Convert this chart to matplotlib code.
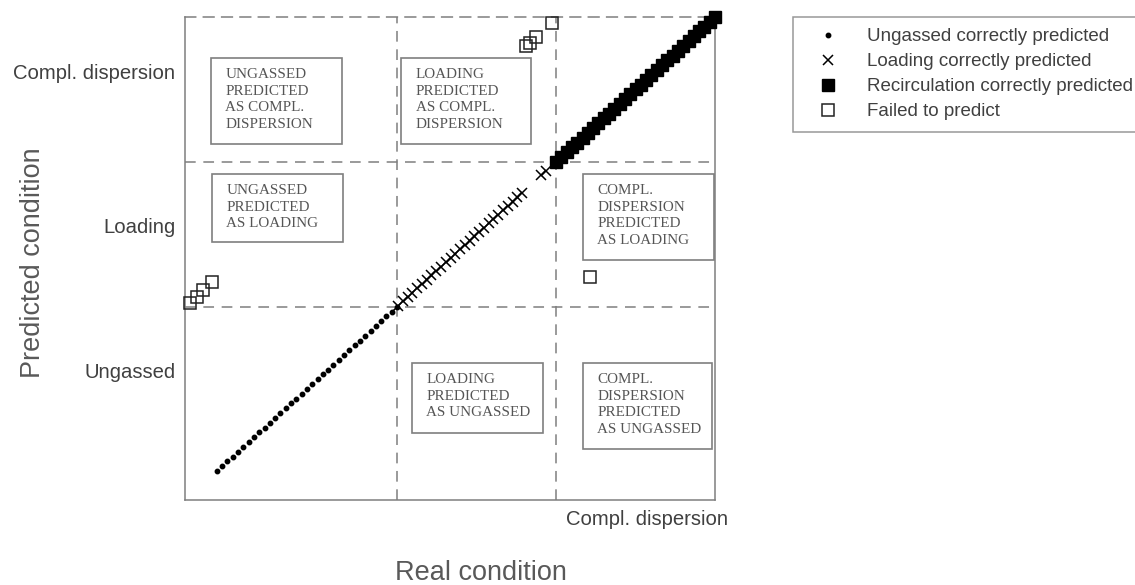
import matplotlib
matplotlib.use("Agg")
import matplotlib.pyplot as plt
from matplotlib.patches import Rectangle

# condition scale: 0-40 ungassed, 40-70 loading, 70-100 complete dispersion
bounds = [40, 70]

# correctly predicted points (predicted == real)
ungassed_ok = [6, 7, 8, 9, 10, 11, 12, 13, 14, 15, 16, 17, 18, 19, 20, 21, 22, 23,
               24, 25, 26, 27, 28, 29, 30, 31, 32, 33, 34, 35, 36, 37, 38, 39, 40]
loading_ok = [40.2, 41.1, 42.0, 42.9, 43.8, 44.7, 45.6, 46.5, 47.4, 48.3, 49.2, 50.1,
              51.0, 51.9, 52.8, 53.7, 54.6, 55.5, 56.4, 57.3, 58.2, 59.1, 60.0, 60.9,
              61.8, 62.7, 63.6, 67.2, 68.1]
recirc_ok = [70, 71, 72, 73, 74, 75, 76, 77, 78, 79, 80, 81, 82, 83, 84, 85, 86, 87,
             88, 89, 90, 91, 92, 93, 94, 95, 96, 97, 98, 99, 100]

# failed predictions (real, predicted)
failed_real = [0.9, 2.3, 3.4, 5.1, 64.3, 65.1, 66.2, 69.2, 76.4]
failed_pred = [40.8, 42.0, 43.5, 45.1, 94.0, 94.6, 95.9, 98.8, 46.2]

ytick_pos = [26.9, 56.9, 88.8]
ytick_labels = ["Ungassed", "Loading", "Compl. dispersion"]
xtick_pos = [87.2]
xtick_labels = ["Compl. dispersion"]

# region boxes: (x0, y0, x1, y1, text)
boxes = [
    (4.9, 73.7, 29.6, 91.5, "UNGASSED\nPREDICTED\nAS COMPL.\nDISPERSION"),
    (40.8, 73.7, 65.3, 91.5, "LOADING\nPREDICTED\nAS COMPL.\nDISPERSION"),
    (5.1, 53.4, 29.8, 67.5, "UNGASSED\nPREDICTED\nAS LOADING"),
    (75.1, 49.7, 99.8, 67.5, "COMPL.\nDISPERSION\nPREDICTED\nAS LOADING"),
    (42.8, 13.9, 67.5, 28.4, "LOADING\nPREDICTED\nAS UNGASSED"),
    (75.1, 10.6, 99.4, 28.4, "COMPL.\nDISPERSION\nPREDICTED\nAS UNGASSED"),
]

gray = "#7f7f7f"
txt = "#404040"

fig = plt.figure(figsize=(11.35, 5.85), dpi=100)
ax = fig.add_axes([185/1135, 85/585, 530/1135, 483/585])
ax.set_xlim(0, 100)
ax.set_ylim(0, 100)

for b in bounds:
    ax.axvline(b, color=gray, lw=1.1, dashes=(7, 5), zorder=1)
    ax.axhline(b, color=gray, lw=1.1, dashes=(7, 5), zorder=1)

for x0, y0, x1, y1, s in boxes:
    ax.add_patch(Rectangle((x0, y0), x1 - x0, y1 - y0, fill=False,
                           edgecolor=gray, lw=1.2, zorder=2))
    ax.text(x0 + 2.7, y1 - 2.1, s, ha="left", va="top", fontsize=10.9,
            family="Liberation Serif", color="#555555", linespacing=1.36, zorder=3)

ax.plot(ungassed_ok, ungassed_ok, ls="none", marker="o", ms=3.2, color="black",
        label="Ungassed correctly predicted", zorder=4)
ax.plot(loading_ok, loading_ok, ls="none", marker="x", ms=7.5, mew=1.1, color="black",
        label="Loading correctly predicted", zorder=4)
ax.plot(recirc_ok, recirc_ok, ls="none", marker="s", ms=8.5, color="black",
        label="Recirculation correctly predicted", zorder=4, clip_on=False)
ax.plot(failed_real, failed_pred, ls="none", marker="s", ms=8.5, mfc="none", mec="#222222",
        mew=1.1, label="Failed to predict", zorder=4, clip_on=False)

for side in ["left", "bottom", "right", "top"]:
    ax.spines[side].set_color(gray)
    ax.spines[side].set_linewidth(1.1)
ax.spines["top"].set_linestyle((0, (7, 5)))

ax.set_yticks(ytick_pos)
ax.set_yticklabels(ytick_labels)
ax.set_xticks(xtick_pos)
ax.set_xticklabels(xtick_labels)
ax.tick_params(length=0, labelsize=14.6, labelcolor=txt, pad=7)
for lbl in ax.get_xticklabels() + ax.get_yticklabels():
    lbl.set_family("Liberation Sans")

fig.text(481/1135, 1 - 573/585, "Real condition", ha="center", va="center",
         fontsize=19.5, color="#595959", family="Liberation Sans")
fig.text(33/1135, 1 - 263/585, "Predicted condition", ha="center", va="center",
         rotation=90, fontsize=19.5, color="#595959", family="Liberation Sans")

leg = fig.legend(loc="upper left", bbox_to_anchor=(793/1135, 1 - 17/585),
                 prop={"family": "Liberation Sans", "size": 13.5}, labelcolor=txt,
                 frameon=True, fancybox=False, edgecolor=gray, handlelength=2.53,
                 handletextpad=0.81, labelspacing=0.42, borderpad=0.6, borderaxespad=0)
leg.get_frame().set_linewidth(1.1)

fig.savefig("out.png", dpi=100)
